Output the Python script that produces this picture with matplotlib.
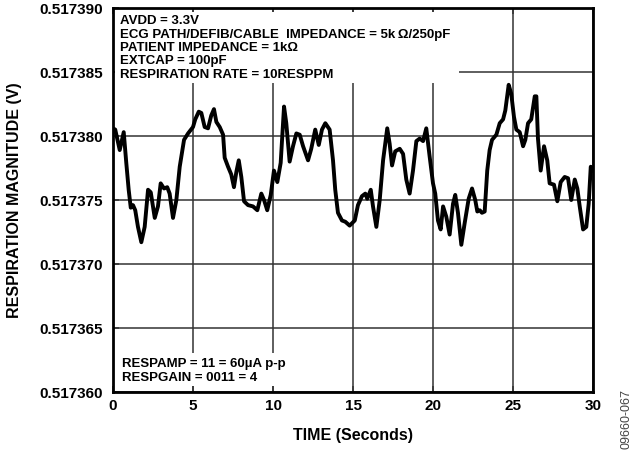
import matplotlib
matplotlib.use("Agg")
import matplotlib.pyplot as plt
from matplotlib.patches import Rectangle

plt.rcParams['font.family'] = ['Liberation Sans', 'DejaVu Sans']

time_s = [0.00, 0.14, 0.42, 0.67, 0.83, 0.98, 1.11, 1.25, 1.39, 1.56, 1.77, 1.98,
          2.19, 2.36, 2.61, 2.81, 2.98, 3.19, 3.39, 3.54, 3.75, 3.96, 4.17, 4.44,
          4.69, 5.00, 5.14, 5.36, 5.52, 5.73, 5.94, 6.14, 6.31, 6.46, 6.67, 6.88,
          6.98, 7.19, 7.39, 7.56, 7.71, 7.86, 8.02, 8.19, 8.44, 8.75, 9.02, 9.27,
          9.44, 9.64, 9.86, 10.06, 10.27, 10.48, 10.69, 10.83, 11.04, 11.25, 11.46,
          11.67, 11.88, 12.19, 12.39, 12.64, 12.86, 13.06, 13.27, 13.54, 13.75,
          13.89, 14.06, 14.31, 14.52, 14.79, 15.11, 15.31, 15.56, 15.77, 15.89,
          16.11, 16.25, 16.46, 16.67, 16.88, 17.14, 17.29, 17.44, 17.64, 17.92,
          18.13, 18.33, 18.54, 18.75, 18.96, 19.17, 19.38, 19.58, 19.79, 20.00,
          20.14, 20.31, 20.48, 20.63, 20.83, 21.04, 21.25, 21.39, 21.56, 21.77,
          21.98, 22.23, 22.44, 22.64, 22.77, 22.92, 23.06, 23.23, 23.39, 23.54,
          23.69, 23.96, 24.17, 24.38, 24.52, 24.73, 24.89, 25.06, 25.21, 25.42,
          25.63, 25.77, 25.94, 26.14, 26.36, 26.46, 26.56, 26.73, 26.94, 27.14,
          27.29, 27.56, 27.77, 27.98, 28.23, 28.44, 28.64, 28.86, 29.02, 29.17,
          29.38, 29.58, 29.73, 29.86, 29.94]

magnitude_v = [0.5173806, 0.5173805, 0.5173789, 0.5173803, 0.5173779, 0.5173758,
               0.5173744, 0.5173746, 0.5173742, 0.5173729, 0.5173717, 0.5173729,
               0.5173758, 0.5173756, 0.5173736, 0.5173745, 0.5173763, 0.5173759,
               0.5173760, 0.5173755, 0.5173736, 0.5173750, 0.5173776, 0.5173797,
               0.5173802, 0.5173807, 0.5173813, 0.5173819, 0.5173818, 0.5173807,
               0.5173806, 0.5173816, 0.5173821, 0.5173811, 0.5173807, 0.5173801,
               0.5173783, 0.5173776, 0.5173770, 0.5173760, 0.5173772, 0.5173781,
               0.5173768, 0.5173749, 0.5173746, 0.5173745, 0.5173742, 0.5173755,
               0.5173750, 0.5173742, 0.5173754, 0.5173773, 0.5173764, 0.5173779,
               0.5173823, 0.5173810, 0.5173780, 0.5173792, 0.5173802, 0.5173801,
               0.5173792, 0.5173781, 0.5173790, 0.5173805, 0.5173793, 0.5173805,
               0.5173810, 0.5173805, 0.5173781, 0.5173758, 0.5173740, 0.5173734,
               0.5173733, 0.5173730, 0.5173734, 0.5173746, 0.5173753, 0.5173755,
               0.5173751, 0.5173758, 0.5173745, 0.5173729, 0.5173750, 0.5173781,
               0.5173806, 0.5173794, 0.5173777, 0.5173788, 0.5173790, 0.5173786,
               0.5173766, 0.5173755, 0.5173773, 0.5173796, 0.5173798, 0.5173796,
               0.5173806, 0.5173784, 0.5173763, 0.5173755, 0.5173734, 0.5173727,
               0.5173745, 0.5173737, 0.5173723, 0.5173747, 0.5173754, 0.5173740,
               0.5173715, 0.5173732, 0.5173751, 0.5173759, 0.5173750, 0.5173741,
               0.5173742, 0.5173740, 0.5173741, 0.5173773, 0.5173789, 0.5173797,
               0.5173801, 0.5173810, 0.5173813, 0.5173820, 0.5173840, 0.5173833,
               0.5173815, 0.5173805, 0.5173803, 0.5173792, 0.5173797, 0.5173810,
               0.5173813, 0.5173831, 0.5173831, 0.5173798, 0.5173773, 0.5173792,
               0.5173781, 0.5173763, 0.5173762, 0.5173749, 0.5173764, 0.5173768,
               0.5173767, 0.5173750, 0.5173766, 0.5173759, 0.5173745, 0.5173727,
               0.5173729, 0.5173747, 0.5173776, 0.5173773]

x_ticks = [0, 5, 10, 15, 20, 25, 30]
y_ticks = [0.517360, 0.517365, 0.517370, 0.517375, 0.517380, 0.517385, 0.517390]
y_tick_labels = ["0.517360", "0.517365", "0.517370", "0.517375", "0.517380",
                 "0.517385", "0.517390"]

top_notes = ["AVDD = 3.3V",
             "ECG PATH/DEFIB/CABLE  IMPEDANCE = 5k\u2009\u03a9/250pF",
             "PATIENT IMPEDANCE = 1k\u03a9",
             "EXTCAP = 100pF",
             "RESPIRATION RATE = 10RESPPM"]
bottom_notes = ["RESPAMP = 11 = 60\u00b5A p-p",
                "RESPGAIN = 0011 = 4"]

fig = plt.figure(figsize=(6.42, 4.50), dpi=100)
ax = fig.add_axes([113/642, 58/450, 480/642, 384/450])

ax.set_xlim(0, 30)
ax.set_ylim(0.517360, 0.517390)
ax.set_xticks(x_ticks)
ax.set_xticklabels([str(v) for v in x_ticks])
ax.set_yticks(y_ticks)
ax.set_yticklabels(y_tick_labels)

ax.grid(True, color='#333333', linewidth=1.1)
ax.set_axisbelow(True)

# white masks behind annotation text (they hide the grid)
ax.add_patch(Rectangle((0.004, 0.805), 0.717, 0.185, transform=ax.transAxes,
                       facecolor='white', edgecolor='none', zorder=1))
ax.add_patch(Rectangle((0.004, 0.015), 0.37, 0.087, transform=ax.transAxes,
                       facecolor='white', edgecolor='none', zorder=1))

ax.plot(time_s, magnitude_v, color='black', linewidth=2.8, zorder=2,
        solid_joinstyle='round')

for sp in ax.spines.values():
    sp.set_linewidth(2.0)
    sp.set_color('black')
    sp.set_zorder(4)

ax.tick_params(axis='both', direction='in', length=4, width=1.1, color='#333333',
               labelsize=11, top=True)
ax.tick_params(axis='x', pad=5)
ax.tick_params(axis='y', pad=7)
for lab in ax.get_xticklabels() + ax.get_yticklabels():
    lab.set_fontweight('bold')

ax.set_xlabel("TIME (Seconds)", fontsize=11.5, fontweight='bold', labelpad=11)
ax.set_ylabel("RESPIRATION MAGNITUDE (V)", fontsize=11.5, fontweight='bold',
              labelpad=13)

for i, line in enumerate(top_notes):
    ax.text(0.0146, 0.9576 - i * 0.0349, line, transform=ax.transAxes, ha='left',
            va='baseline', fontsize=9.5, fontweight='bold', zorder=3)
for i, line in enumerate(bottom_notes):
    ax.text(0.0185, 0.0651 - i * 0.0365, line, transform=ax.transAxes, ha='left',
            va='baseline', fontsize=9.5, fontweight='bold', zorder=3)

fig.text(627/642, (450-419)/450, "09660-067", rotation=90, fontsize=9,
         color='#444444', ha='center', va='center')

fig.savefig("out.png", dpi=100)
